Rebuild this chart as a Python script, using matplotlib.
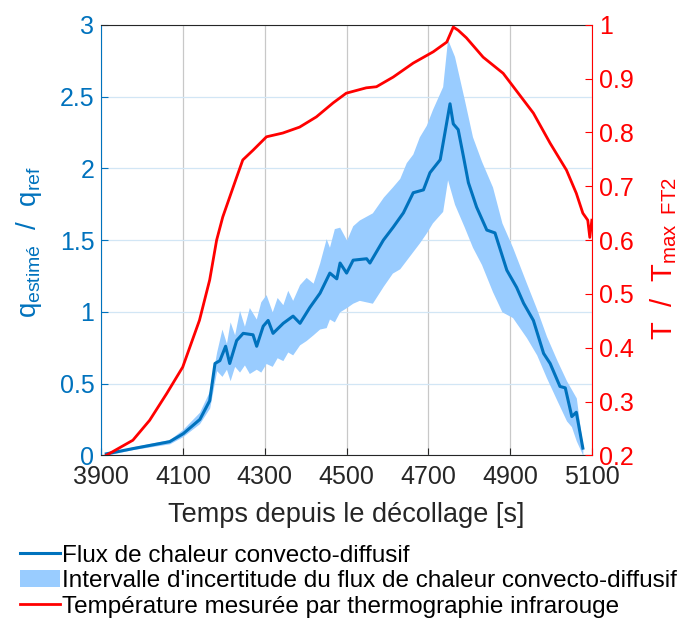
import matplotlib
matplotlib.use("Agg")
import matplotlib.pyplot as plt
import numpy as np

plt.rcParams['font.family'] = ['Liberation Sans', 'DejaVu Sans']
plt.rcParams['mathtext.fontset'] = 'custom'
plt.rcParams['mathtext.rm'] = 'Liberation Sans'
plt.rcParams['mathtext.it'] = 'Liberation Sans'

# --- Data ---
t_flux = [3912, 3978, 4067, 4100, 4141, 4165, 4178, 4190, 4204, 4214, 4231, 4247, 4271,
          4280, 4296, 4308, 4320, 4345, 4369, 4386, 4410, 4435, 4459, 4476, 4484, 4500,
          4516, 4549, 4557, 4590, 4614, 4639, 4663, 4688, 4704, 4729, 4753, 4761, 4773,
          4786, 4798, 4818, 4843, 4863, 4892, 4916, 4933, 4957, 4982, 4998, 5022, 5035,
          5051, 5062, 5078]
q_flux = [0.01, 0.047, 0.095, 0.15, 0.25, 0.38, 0.64, 0.66, 0.76, 0.64, 0.80, 0.85, 0.84,
          0.76, 0.90, 0.94, 0.85, 0.92, 0.97, 0.92, 1.03, 1.13, 1.27, 1.23, 1.34, 1.27,
          1.36, 1.37, 1.34, 1.50, 1.59, 1.69, 1.83, 1.85, 1.97, 2.06, 2.45, 2.31, 2.27,
          2.08, 1.90, 1.73, 1.57, 1.55, 1.29, 1.17, 1.06, 0.94, 0.71, 0.64, 0.48, 0.47,
          0.27, 0.30, 0.05]

t_band = [3912, 3977, 4067, 4099, 4140, 4165, 4182, 4195, 4206, 4215, 4226, 4238, 4250,
          4262, 4279, 4290, 4303, 4318, 4330, 4344, 4356, 4368, 4385, 4401, 4418, 4434,
          4450, 4458, 4470, 4483, 4500, 4515, 4531, 4563, 4590, 4612, 4630, 4646, 4662,
          4678, 4695, 4710, 4735, 4747, 4764, 4788, 4808, 4830, 4857, 4880, 4906, 4940,
          4965, 4989, 5015, 5038, 5050, 5062, 5078]
q_upper = [0.01, 0.06, 0.11, 0.18, 0.30, 0.45, 0.72, 0.88, 0.78, 0.93, 0.84, 1.01, 0.90,
           1.03, 0.95, 1.07, 1.12, 1.00, 1.10, 1.05, 1.15, 1.08, 1.19, 1.24, 1.20, 1.34,
           1.51, 1.45, 1.58, 1.59, 1.50, 1.60, 1.64, 1.69, 1.80, 1.87, 1.93, 2.04, 2.10,
           2.22, 2.30, 2.41, 2.57, 2.90, 2.78, 2.48, 2.22, 2.05, 1.87, 1.62, 1.45, 1.20,
           1.02, 0.83, 0.66, 0.52, 0.46, 0.40, 0.05]
q_lower = [0.0, 0.04, 0.08, 0.13, 0.22, 0.33, 0.59, 0.55, 0.60, 0.52, 0.62, 0.58, 0.63,
           0.57, 0.60, 0.58, 0.64, 0.62, 0.68, 0.66, 0.72, 0.70, 0.77, 0.80, 0.84, 0.88,
           0.89, 0.95, 0.93, 1.00, 1.03, 1.06, 1.08, 1.06, 1.18, 1.27, 1.30, 1.36, 1.42,
           1.48, 1.55, 1.62, 1.70, 1.92, 1.75, 1.59, 1.45, 1.33, 1.14, 1.00, 0.96, 0.82,
           0.70, 0.54, 0.38, 0.24, 0.20, 0.10, 0.0]

t_temp = [3912, 3977, 4018, 4060, 4099, 4140, 4165, 4182, 4197, 4214, 4231, 4246, 4271,
          4304, 4344, 4385, 4426, 4467, 4499, 4548, 4573, 4614, 4663, 4712, 4745, 4761,
          4773, 4793, 4834, 4883, 4908, 4957, 4998, 5038, 5062, 5078, 5090, 5095, 5100]
T_temp = [0.20, 0.228, 0.265, 0.315, 0.364, 0.451, 0.526, 0.60, 0.643, 0.68, 0.717, 0.749,
          0.767, 0.792, 0.799, 0.81, 0.829, 0.855, 0.873, 0.883, 0.885, 0.903, 0.929, 0.95,
          0.968, 0.996, 0.99, 0.976, 0.94, 0.91, 0.885, 0.836, 0.78, 0.73, 0.687, 0.65,
          0.637, 0.605, 0.637]

x_ticks = [3900, 4100, 4300, 4500, 4700, 4900, 5100]
y_left_ticks = [0, 0.5, 1, 1.5, 2, 2.5, 3]
y_left_labels = ['0', '0.5', '1', '1.5', '2', '2.5', '3']
y_right_ticks = [0.2, 0.3, 0.4, 0.5, 0.6, 0.7, 0.8, 0.9, 1.0]
y_right_labels = ['0.2', '0.3', '0.4', '0.5', '0.6', '0.7', '0.8', '0.9', '1']

labels = ["Flux de chaleur convecto-diffusif",
          "Intervalle d'incertitude du flux de chaleur convecto-diffusif",
          "Température mesurée par thermographie infrarouge"]

BLUE = '#0072BD'
BAND = '#99CCFF'
RED = '#FF0000'

fig = plt.figure(figsize=(6.85, 6.22), dpi=100)
ax = fig.add_axes([0.148, 0.268, 0.716, 0.692])
ax2 = ax.twinx()

band = ax.fill_between(t_band, q_lower, q_upper, color=BAND, linewidth=0, zorder=2)
line_q, = ax.plot(t_flux, q_flux, color=BLUE, linewidth=2.2, zorder=3)
line_T, = ax2.plot(t_temp, T_temp, color=RED, linewidth=2.0)

ax.set_xlim(3900, 5100)
ax.set_ylim(0, 3)
ax2.set_ylim(0.2, 1.0)
ax.set_xticks(x_ticks)
ax.set_yticks(y_left_ticks)
ax.set_yticklabels(y_left_labels)
ax2.set_yticks(y_right_ticks)
ax2.set_yticklabels(y_right_labels)

# grids: vertical gray, horizontal light blue
ax.xaxis.grid(True, color='#c8c8c8', linewidth=0.9)
ax.yaxis.grid(True, color='#d2e6f5', linewidth=0.9)
ax.set_axisbelow(True)

ax.tick_params(axis='x', direction='in', labelsize=18, colors='#262626', length=5, pad=7)
ax.tick_params(axis='y', direction='in', labelsize=18, colors=BLUE, length=5, pad=5)
ax2.tick_params(axis='y', direction='in', labelsize=18, colors=RED, length=5, pad=5)

for s in ['top', 'bottom']:
    ax.spines[s].set_color('#262626')
ax.spines['left'].set_color(BLUE)
ax2.spines['left'].set_visible(False)
ax2.spines['right'].set_color(RED)
ax.spines['right'].set_visible(False)
ax2.spines['top'].set_visible(False)
ax2.spines['bottom'].set_visible(False)

ax.set_xlabel("Temps depuis le décollage [s]", fontsize=19.5, color='#262626', labelpad=9)
ax.set_ylabel(r"$q_{estimé}$  /  $q_{ref}$", fontsize=20, color=BLUE)
ax2.set_ylabel(r"T  /  $T_{max\ \ FT2}$", fontsize=21, color=RED)
ax.yaxis.set_label_coords(-0.118, 0.495)
ax2.yaxis.set_label_coords(1.115, 0.458)

fig.legend([line_q, band, line_T], labels, loc='upper left',
           bbox_to_anchor=(0.029, 0.124), frameon=False, fontsize=17.5,
           handlelength=1.65, handletextpad=0.1, labelspacing=0.14, borderaxespad=0,
           borderpad=0)

fig.savefig("out.png", dpi=100)
